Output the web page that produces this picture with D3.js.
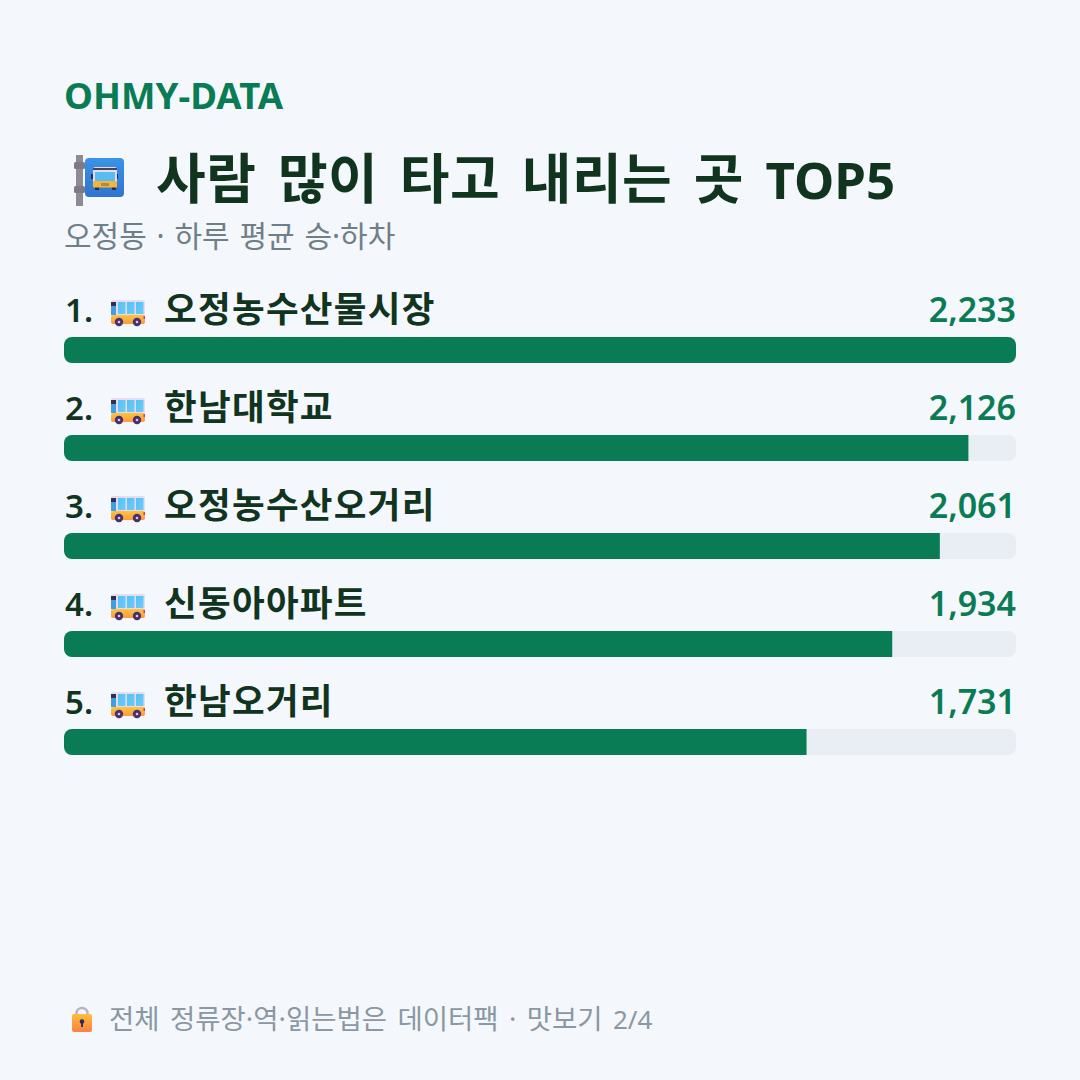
<!DOCTYPE html>
<html lang="ko">
<head>
<meta charset="utf-8">
<script src="https://cdn.jsdelivr.net/npm/d3@7"></script>
<style>
  html, body { margin: 0; padding: 0; background: #f4f7fb; }
  svg { display: block; }
  text { font-family: "Noto Sans", "Noto Sans CJK KR", sans-serif; }
</style>
</head>
<body>
<svg id="chart" width="1080" height="1080"></svg>
<script>
const brand = "OHMY-DATA";
const titleKo = "사람 많이 타고 내리는 곳 ";
const titleEn = "TOP5";
const subtitle = "오정동 · 하루 평균 승·하차";
const footnoteKo = "전체 정류장·역·읽는법은 데이터팩 · 맛보기 ";
const footnoteEn = "2/4";
const stops = ["오정농수산물시장", "한남대학교", "오정농수산오거리", "신동아아파트", "한남오거리"];
const riders = [2233, 2126, 2061, 1934, 1731];

const GREEN = "#0a7c55", DARK = "#11341f", GREY = "#6f7f88", TRACK = "#e9edf4";

const svg = d3.select("#chart");
svg.append("rect").attr("width", 1080).attr("height", 1080).attr("fill", "#f4f7fb");

const defs = svg.append("defs");
const lg = defs.append("linearGradient").attr("id", "lockFill").attr("x1", 0).attr("y1", 0).attr("x2", 0).attr("y2", 1);
lg.append("stop").attr("offset", 0).attr("stop-color", "#fbbf3a");
lg.append("stop").attr("offset", 1).attr("stop-color", "#fb7f45");
const bg = defs.append("linearGradient").attr("id", "busBody").attr("x1", 0).attr("y1", 0).attr("x2", 0).attr("y2", 1);
bg.append("stop").attr("offset", 0).attr("stop-color", "#fcc53f");
bg.append("stop").attr("offset", 1).attr("stop-color", "#fb9a3f");
const wg = defs.append("linearGradient").attr("id", "busGlass").attr("x1", 0).attr("y1", 0).attr("x2", 1).attr("y2", 1);
wg.append("stop").attr("offset", 0).attr("stop-color", "#4fc3f7");
wg.append("stop").attr("offset", 1).attr("stop-color", "#74c8f8");
const pg = defs.append("linearGradient").attr("id", "signFace").attr("x1", 0).attr("y1", 0).attr("x2", 0).attr("y2", 1);
pg.append("stop").attr("offset", 0).attr("stop-color", "#3a93e6");
pg.append("stop").attr("offset", 1).attr("stop-color", "#2f74d0");

// Bars are sized as whole percentages of the busiest stop.
const top1 = d3.max(riders);
const share = riders.map(v => Math.round(v / top1 * 100));
const x = d3.scaleLinear().domain([0, 100]).range([64, 1016]);
const rowY = d3.scalePoint().domain(stops).range([337, 729]);
const fmt = d3.format(",");

svg.append("text").attr("x", 64).attr("y", 109).attr("font-size", 36.6).attr("font-weight", 700)
  .attr("letter-spacing", 0.05).attr("fill", GREEN).text(brand);

const titleText = svg.append("text").attr("x", 156).attr("y", 199).attr("font-weight", 700)
  .attr("fill", DARK).attr("xml:space", "preserve").attr("word-spacing", 7);
titleText.append("tspan").attr("font-size", 54).attr("letter-spacing", 0.5).text(titleKo);
titleText.append("tspan").attr("font-size", 51).text(titleEn);

svg.append("text").attr("x", 64).attr("y", 247).attr("font-size", 30).attr("word-spacing", 2)
  .attr("fill", GREY).text(subtitle);

const footText = svg.append("text").attr("x", 109).attr("y", 1029).attr("word-spacing", 3.2)
  .attr("fill", "#8b98a3").attr("xml:space", "preserve");
footText.append("tspan").attr("font-size", 27.5).text(footnoteKo);
footText.append("tspan").attr("font-size", 26).text(footnoteEn);

// Bus stop sign next to the title
const sign = svg.append("g").attr("transform", "translate(74,155)");
sign.append("rect").attr("x", 2).attr("width", 7).attr("height", 51).attr("fill", "#8f8b96");
sign.append("rect").attr("y", 7).attr("width", 11).attr("height", 7).attr("rx", 1.5).attr("fill", "#7f7b86");
sign.append("rect").attr("y", 31).attr("width", 11).attr("height", 7).attr("rx", 1.5).attr("fill", "#7f7b86");
sign.append("rect").attr("x", 11).attr("y", 3).attr("width", 39).attr("height", 39).attr("rx", 4).attr("fill", "url(#signFace)");
sign.selectAll("rect.mirror").data([18, 43]).join("rect").attr("class", "mirror")
  .attr("x", d => d - 1).attr("y", 19).attr("width", 2).attr("height", 5).attr("fill", "#2f2b4a");
sign.selectAll("rect.wheel").data([21, 38]).join("rect").attr("class", "wheel")
  .attr("x", d => d).attr("y", 31).attr("width", 4).attr("height", 4).attr("fill", "#2f2b4a");
sign.append("rect").attr("x", 19).attr("y", 12).attr("width", 24).attr("height", 20).attr("rx", 2.5).attr("fill", "#e4dcf0");
sign.append("rect").attr("x", 19).attr("y", 13).attr("width", 24).attr("height", 2).attr("fill", "#4a3f5e");
sign.append("rect").attr("x", 21).attr("y", 17).attr("width", 20).attr("height", 9).attr("fill", "#56bdf2");
sign.append("rect").attr("x", 19).attr("y", 26).attr("width", 24).attr("height", 6.5).attr("rx", 1).attr("fill", "#f4b63a");
sign.append("rect").attr("x", 27).attr("y", 28).attr("width", 8).attr("height", 3).attr("fill", "#b5893a");

// Padlock in front of the footnote
const lock = svg.append("g").attr("transform", "translate(72,1007)");
lock.append("path").attr("d", "M4.5 8 V6 a5.5 5 0 0 1 11 0 V8").attr("fill", "none")
  .attr("stroke", "#b9b1c4").attr("stroke-width", 2.4);
lock.append("rect").attr("x", 0).attr("y", 7).attr("width", 20).attr("height", 18).attr("rx", 2).attr("fill", "url(#lockFill)");
lock.append("circle").attr("cx", 10).attr("cy", 14.5).attr("r", 2.3).attr("fill", "#2c2a5a");
lock.append("rect").attr("x", 9.1).attr("y", 15).attr("width", 1.8).attr("height", 5).attr("fill", "#2c2a5a");

const rows = svg.selectAll("g.row").data(stops).join("g").attr("class", "row")
  .attr("transform", d => `translate(0,${rowY(d)})`);

rows.append("rect").attr("x", x(0)).attr("width", x(100) - x(0)).attr("height", 26).attr("rx", 8).attr("fill", TRACK);

rows.append("path").attr("fill", GREEN).attr("d", (d, i) => {
  const r = 8, x0 = x(0), x1 = x(share[i]), h = 26;
  const rr = share[i] === 100 ? r : 0;
  return `M${x0 + r} 0 H${x1 - rr} A${rr} ${rr} 0 0 1 ${x1} ${rr} V${h - rr} A${rr} ${rr} 0 0 1 ${x1 - rr} ${h} H${x0 + r} A${r} ${r} 0 0 1 ${x0} ${h - r} V${r} A${r} ${r} 0 0 1 ${x0 + r} 0 Z`;
});

rows.append("text").attr("x", 65).attr("y", -15).attr("font-size", 33).attr("font-weight", 600)
  .attr("fill", DARK).text((d, i) => `${i + 1}.`);
rows.append("text").attr("x", 164).attr("y", -15).attr("font-size", 35.5).attr("font-weight", 700).attr("letter-spacing", 1.3)
  .attr("fill", DARK).text(d => d);
rows.append("text").attr("x", 1016).attr("y", -15).attr("font-size", 34).attr("font-weight", 600)
  .attr("text-anchor", "end").attr("fill", GREEN).text((d, i) => fmt(riders[i]));

// Small bus glyph on each row
const bus = rows.append("g").attr("transform", "translate(111,-37)");
bus.append("rect").attr("width", 34).attr("height", 16).attr("rx", 2).attr("fill", "#e6dcef");
bus.append("rect").attr("y", 15).attr("width", 34).attr("height", 9).attr("rx", 2).attr("fill", "url(#busBody)");
bus.append("rect").attr("y", 2).attr("width", 5).attr("height", 13).attr("fill", "#3f9fe0");
bus.append("rect").attr("y", 2).attr("width", 5).attr("height", 4).attr("fill", "#33304f");
bus.selectAll("rect.win").data(["a", "b", "c"]).join("rect").attr("class", "win")
  .attr("x", (d, i) => 7 + i * 9).attr("y", 2).attr("width", 7.5).attr("height", 12).attr("fill", "url(#busGlass)");
bus.append("rect").attr("x", 32.5).attr("y", 16).attr("width", 1.5).attr("height", 3).attr("fill", "#d6336c");
bus.selectAll("circle.tyre").data([8, 26]).join("circle").attr("class", "tyre")
  .attr("cx", d => d).attr("cy", 22).attr("r", 4.2).attr("fill", "#4a2f6e");
bus.selectAll("circle.hub").data([8, 26]).join("circle").attr("class", "hub")
  .attr("cx", d => d).attr("cy", 22).attr("r", 1.3).attr("fill", "#d9c9e6");
</script>
</body>
</html>
